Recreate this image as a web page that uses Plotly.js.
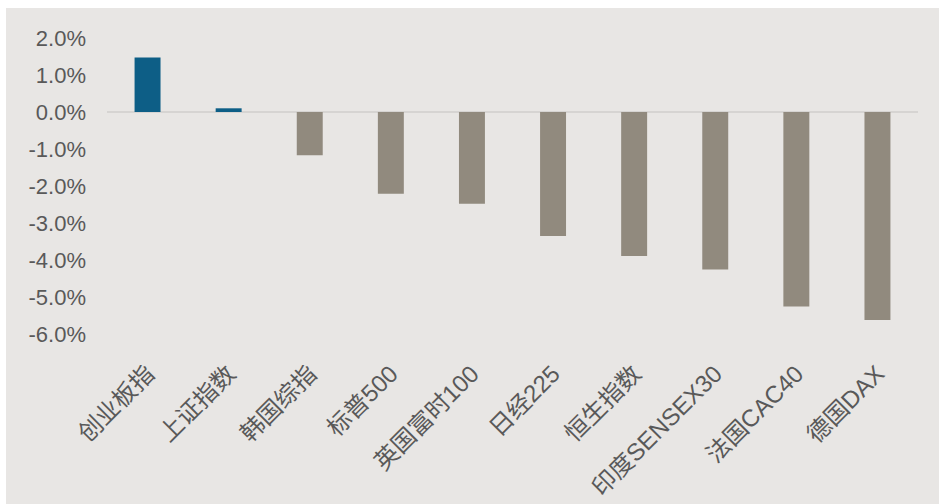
<!DOCTYPE html>
<html>
<head>
<meta charset="utf-8">
<script src="https://cdn.plot.ly/plotly-3.0.1.min.js"></script>
<style>
html,body{margin:0;padding:0;background:#ffffff;width:939px;height:504px;overflow:hidden;}
#chart{position:absolute;left:6px;top:8px;width:933px;height:496px;}
</style>
</head>
<body>
<div id="chart"></div>
<script>
const categories = ["创业板指","上证指数","韩国综指","标普500","英国富时100","日经225","恒生指数","印度SENSEX30","法国CAC40","德国DAX"];
const values = [1.47, 0.1, -1.17, -2.21, -2.48, -3.35, -3.89, -4.26, -5.26, -5.62];
const tickValues = [2, 1, 0, -1, -2, -3, -4, -5, -6];
const tickLabels = ["2.0%","1.0%","0.0%","-1.0%","-2.0%","-3.0%","-4.0%","-5.0%","-6.0%"];

const colors = values.map(v => v >= 0 ? "#0d5e86" : "#918a7e");
const fontFam = "Arial, 'Liberation Sans', 'Noto Sans CJK SC', sans-serif";

Plotly.newPlot("chart", [{
  type: "bar",
  x: categories,
  y: values,
  marker: {color: colors},
  hoverinfo: "none"
}], {
  width: 933,
  height: 496,
  paper_bgcolor: "#e8e6e4",
  plot_bgcolor: "#e8e6e4",
  margin: {l: 101, r: 21, t: 30, b: 170},
  bargap: 0.68,
  showlegend: false,
  font: {family: fontFam, color: "#595959"},
  xaxis: {
    type: "category",
    tickangle: -45,
    tickfont: {size: 24, color: "#595959", family: fontFam},
    showgrid: false,
    zeroline: false,
    showline: false,
    ticks: "",
    ticklabelstandoff: 20
  },
  yaxis: {
    range: [-6, 2],
    tickvals: tickValues,
    ticktext: tickLabels,
    tickfont: {size: 22, color: "#595959", family: fontFam},
    showgrid: false,
    zeroline: true,
    zerolinecolor: "#d6d4d2",
    zerolinewidth: 2,
    showline: false,
    ticks: "",
    ticklabelstandoff: 20
  }
}, {staticPlot: true});
</script>
</body>
</html>
